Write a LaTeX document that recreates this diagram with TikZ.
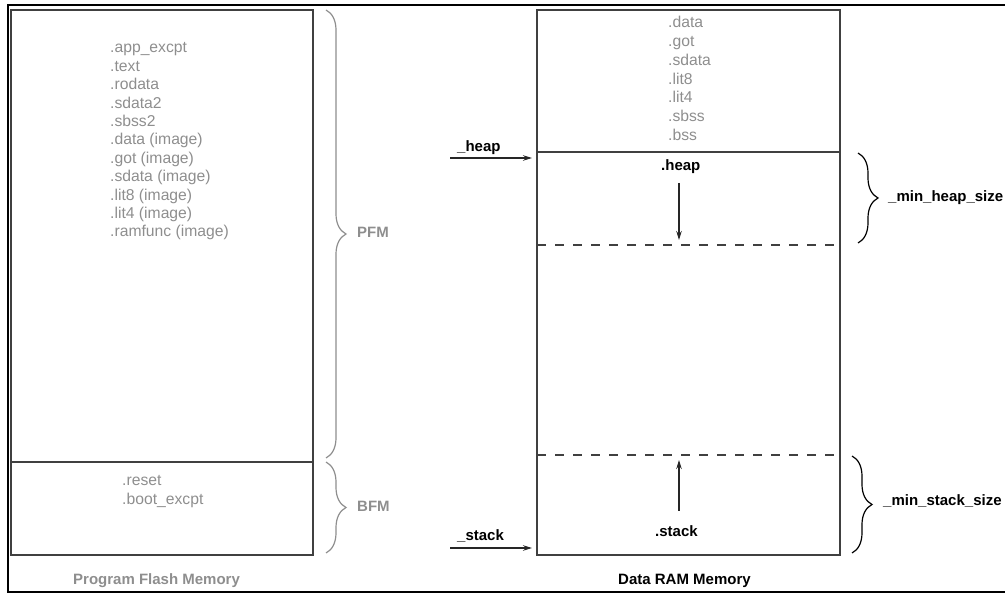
\documentclass[tikz,border=0pt]{standalone}
\usepackage{fontspec}
\setmainfont{Liberation Sans}
\usetikzlibrary{arrows.meta,decorations.pathreplacing}
\definecolor{sectgray}{HTML}{8E8E8E}
\definecolor{boxline}{HTML}{404040}
\begin{document}
\begin{tikzpicture}[x=1pt,y=-1pt,
  sect/.style={font=\fontsize{15.7}{18}\selectfont, text=sectgray, anchor=base west, inner sep=0pt},
  lbl/.style={font=\bfseries\fontsize{15}{18}\selectfont, anchor=base west, inner sep=0pt},
  glbl/.style={lbl, text=sectgray},
  boxln/.style={draw=boxline, line width=1.4pt},
  dashln/.style={draw=boxline, line width=1.3pt, dash pattern=on 9pt off 9pt},
  arr/.style={-{Stealth[length=9pt,width=5.5pt]}, line width=1.2pt, draw=black!85},
  gbrace/.style={decorate, decoration={brace, amplitude=20pt}, draw=sectgray, line width=1.2pt},
  kbrace/.style={decorate, decoration={brace, amplitude=20pt}, draw=black, line width=1.2pt},
  frame/.style={draw=black, line width=2.5pt}
]
\useasboundingbox (0,0) rectangle (1005,593);
% outer frame
\draw[frame] (1005,5) -- (8,5) -- (8,592) -- (1005,592);

% Program flash memory
\draw[boxln] (11,10) rectangle (313,555);
\draw[boxln] (11,462) -- (313,462);
\foreach \t [count=\i] in {.app\_excpt,.text,.rodata,.sdata2,.sbss2,.data (image),.got (image),.sdata (image),.lit8 (image),.lit4 (image),.ramfunc (image)}
  \node[sect] (pfm\i) at (110,{53+18.4*(\i-1)}) {\t};
\node[sect] (bfm1) at (122,486) {.reset};
\node[sect] (bfm2) at (122,505) {.boot\_excpt};
\draw[gbrace] (326,10) -- (326,458);
\draw[gbrace] (326,462) -- (326,553);
\node[glbl] (pfmlbl) at (357,238) {PFM};
\node[glbl] (bfmlbl) at (357,512) {BFM};
\node[glbl] (pfmtitle) at (73,585) {Program Flash Memory};

% Data RAM memory
\draw[boxln] (537,10) rectangle (840,555);
\draw[boxln] (537,152) -- (840,152);
\draw[dashln] (537,245) -- (840,245);
\draw[dashln] (537,455) -- (840,455);
\foreach \t [count=\i] in {.data,.got,.sdata,.lit8,.lit4,.sbss,.bss}
  \node[sect] (ram\i) at (668,{28+18.67*(\i-1)}) {\t};

\node[lbl] (heapsym) at (457,152) {\_heap};
\node[lbl] (stacksym) at (457,541) {\_stack};
\coordinate (heapfrom) at (450,158);
\coordinate (heapto) at (532,158);
\coordinate (stackfrom) at (450,548);
\coordinate (stackto) at (532,548);
\draw[arr] (heapfrom) -- (heapto);
\draw[arr] (stackfrom) -- (stackto);

\node[lbl] (heaplbl) at (661,171) {.heap};
\node[lbl] (stacklbl) at (655,536.5) {.stack};
\coordinate (heapa) at (679,183);
\coordinate (heapb) at (679,240);
\coordinate (stacka) at (679,511);
\coordinate (stackb) at (679,460);
\draw[arr] (heapa) -- (heapb);
\draw[arr] (stacka) -- (stackb);

\draw[kbrace] (858,153) -- (858,243);
\draw[kbrace] (852,456) -- (852,553);
\node[lbl] (minheap) at (888,202) {\_min\_heap\_size};
\node[lbl] (minstack) at (883,506) {\_min\_stack\_size};
\node[lbl] (ramtitle) at (618,585) {Data RAM Memory};
\end{tikzpicture}
\end{document}
